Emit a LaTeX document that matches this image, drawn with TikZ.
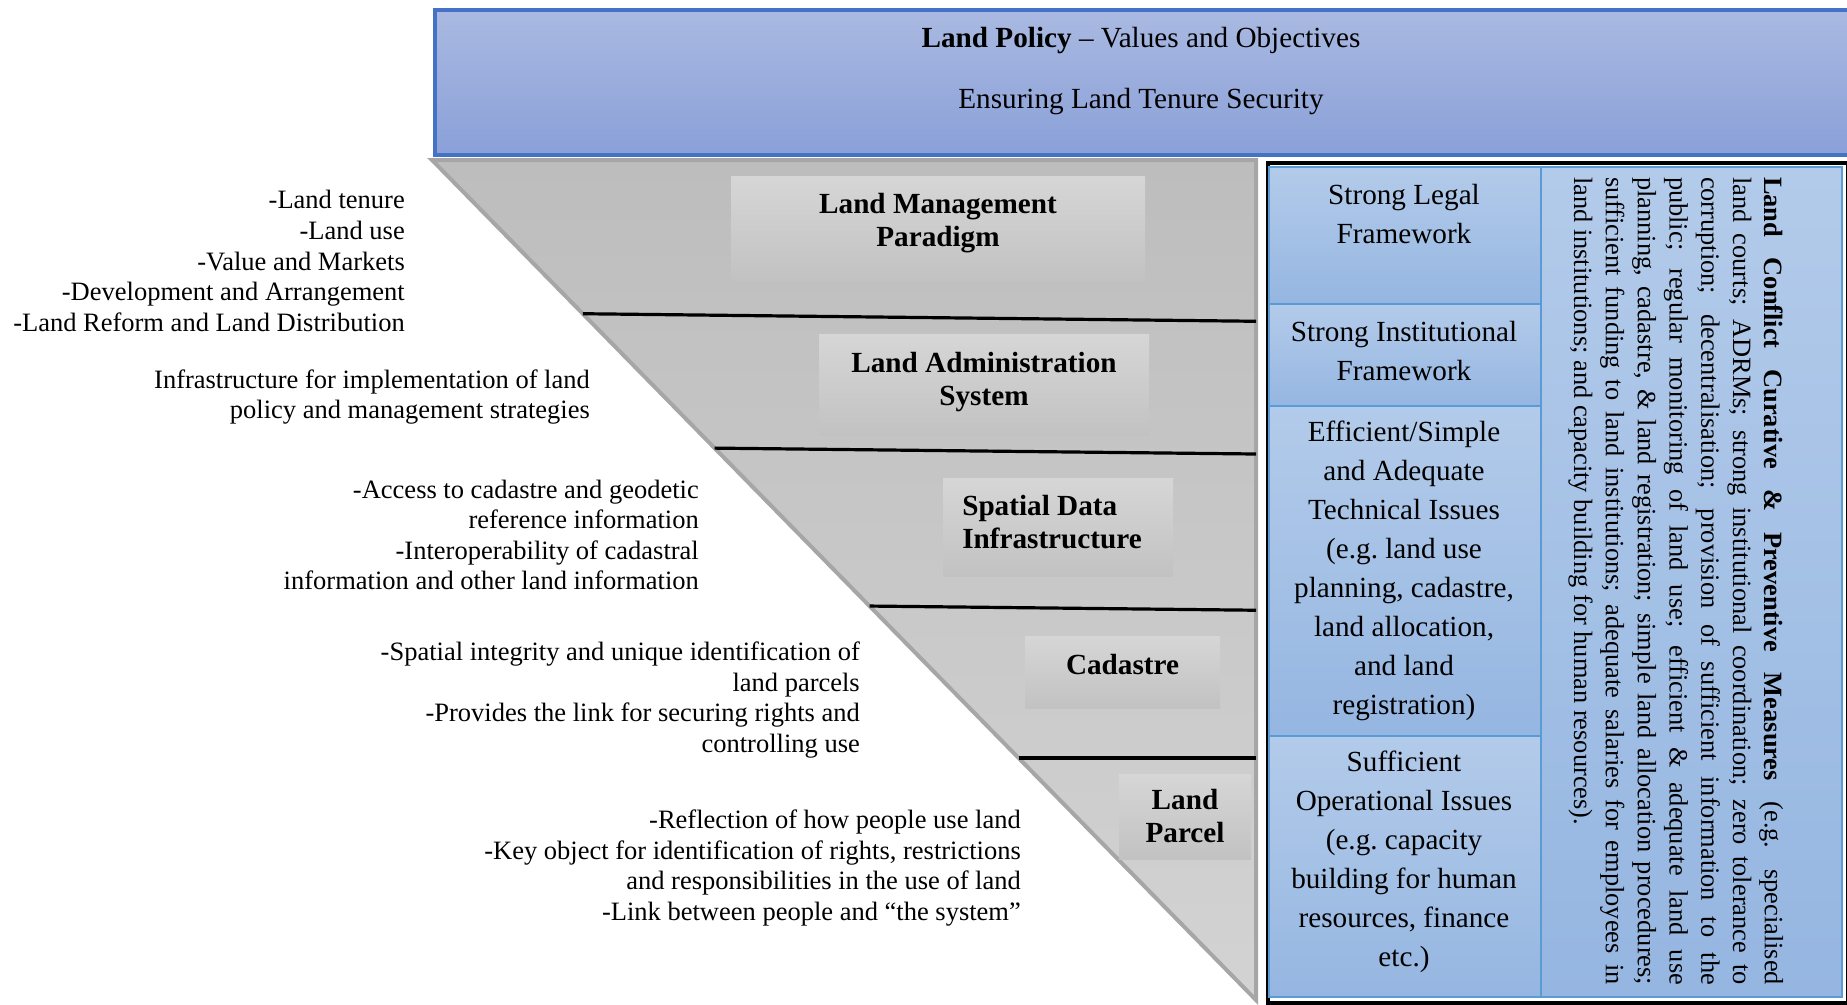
\documentclass[tikz,border=0pt]{standalone}
\usepackage{fontspec}
\setmainfont{Liberation Serif}
\usepackage{xcolor}
\usetikzlibrary{positioning,calc}

\definecolor{policyblue}{HTML}{4472C4}
\definecolor{policytop}{HTML}{A9B9E1}
\definecolor{policybot}{HTML}{8AA0D8}
\definecolor{funneledge}{HTML}{A6A6A6}
\definecolor{funneltop}{HTML}{BDBDBD}
\definecolor{funnelbot}{HTML}{D3D3D3}
\definecolor{layertop}{HTML}{D6D6D6}
\definecolor{layerbot}{HTML}{C2C2C2}
\definecolor{panelline}{HTML}{5B9BD5}
\definecolor{paneltop}{HTML}{B3CBEA}
\definecolor{panelbot}{HTML}{95B6E1}

\begin{document}
\begin{tikzpicture}[x=1pt, y=-1pt,
    note/.style={anchor=east, align=right, inner sep=0pt, font=\fontsize{26.5}{30.6}\selectfont},
    layerbox/.style={top color=layertop, bottom color=layerbot, inner sep=0pt},
    layer/.style={align=center, inner sep=0pt, font=\bfseries\fontsize{29.2}{33}\selectfont},
    pillar/.style={draw=panelline, line width=2pt, top color=paneltop, bottom color=panelbot},
    pillartext/.style={align=center, inner sep=0pt, font=\fontsize{29.2}{39}\selectfont},
    heading/.style={inner sep=0pt, font=\fontsize{29.2}{35}\selectfont},
    divider/.style={line width=3.2pt, black}]
    \useasboundingbox (0,0) rectangle (1847,1004);

    % Land policy banner
    \node[draw=policyblue, line width=4pt, top color=policytop, bottom color=policybot,
          minimum width=1416pt, minimum height=145pt, anchor=north west] (policy) at (433,8) {};
    \node[heading] (aim) at (1141,40.5) {\textbf{Land Policy} – Values and Objectives};
    \node[heading] (goal) at (1141,101.5) {Ensuring Land Tenure Security};

    % Funnel
    \coordinate (tl) at (432,160);
    \coordinate (tr) at (1256,160);
    \coordinate (apex) at (1256,1000);
    \draw[draw=funneledge, line width=4pt, top color=funneltop, bottom color=funnelbot] (tl) -- (tr) -- (apex) -- cycle;

    \draw[divider] ($(tl)!0.183!(apex)$) -- ($(tr)!0.192!(apex)$);
    \draw[divider] ($(tl)!0.343!(apex)$) -- ($(tr)!0.350!(apex)$);
    \draw[divider] ($(tl)!0.531!(apex)$) -- ($(tr)!0.536!(apex)$);
    \draw[divider] ($(tl)!0.712!(apex)$) -- ($(tr)!0.712!(apex)$);

    \node[layerbox, minimum width=414pt, minimum height=104pt] (lmpbox) at (938,228) {};
    \node[layerbox, minimum width=330pt, minimum height=101pt] (lasbox) at (984,384.5) {};
    \node[layerbox, minimum width=230pt, minimum height=98pt] (sdibox) at (1058,527) {};
    \node[layerbox, minimum width=195pt, minimum height=72pt] (cadbox) at (1122.5,672) {};
    \node[layerbox, minimum width=132pt, minimum height=85pt] (parcelbox) at (1185,816.5) {};

    \node[layer, yshift=5pt] (lmp) at (lmpbox) {Land Management\\Paradigm};
    \node[layer, yshift=2pt] (las) at (lasbox) {Land Administration\\System};
    \node[layer, align=left, yshift=5pt, xshift=-6pt] (sdi) at (sdibox) {Spatial Data\\Infrastructure};
    \node[layer, yshift=7pt] (cad) at (cadbox) {Cadastre};
    \node[layer] (parcel) at (parcelbox) {Land\\Parcel};

    % Labels
    \node[note] (tenure) at (405,261) {-Land tenure\\-Land use\\-Value and Markets\\-Development and Arrangement\\-Land Reform and Land Distribution};
    \node[note] (infra) at (590,397) {Infrastructure for implementation of land\\policy and management strategies};
    \node[note] (access) at (699,535) {-Access to cadastre and geodetic\\reference information\\-Interoperability of cadastral\\information and other land information};
    \node[note] (integrity) at (860,700) {-Spatial integrity and unique identification of\\land parcels\\-Provides the link for securing rights and\\controlling use};
    \node[note] (reflect) at (1021,868) {-Reflection of how people use land\\-Key object for identification of rights, restrictions\\and responsibilities in the use of land\\-Link between people and “the system”};

    % Land conflict measures
    \node[draw, line width=4pt, minimum width=580pt, minimum height=840pt, anchor=north west] (frame) at (1265.5,160.5) {};
    \draw[pillar] (1269,167) rectangle (1541,304);
    \draw[pillar] (1269,304) rectangle (1541,406);
    \draw[pillar] (1269,406) rectangle (1541,736);
    \draw[pillar] (1269,736) rectangle (1541,997);
    \draw[pillar] (1541,167) rectangle (1842,997);

    \node[pillartext] (legal) at (1404,214) {Strong Legal\\Framework};
    \node[pillartext] (inst) at (1404,351.5) {Strong Institutional\\Framework};
    \node[pillartext] (tech) at (1404,570.5) {Efficient/Simple\\and Adequate\\Technical Issues\\(e.g.\ land use\\planning, cadastre,\\land allocation,\\and land\\registration)};
    \node[pillartext] (ops) at (1404,862) {Sufficient\\Operational Issues\\(e.g.\ capacity\\building for human\\resources, finance\\etc.)};

    \node[rotate=-90, text width=808pt, align=justify, inner sep=0pt, font=\fontsize{26.4}{31.8}\selectfont] (measures) at (1676,581)
      {\textbf{Land Conflict Curative \& Preventive Measures} (e.g.\ specialised\linebreak
       land courts; ADRMs; strong institutional coordination; zero tolerance to\linebreak
       corruption; decentralisation; provision of sufficient information to the\linebreak
       public; regular monitoring of land use; efficient \& adequate land use\linebreak
       planning, cadastre, \& land registration; simple land allocation procedures;\linebreak
       sufficient funding to land institutions; adequate salaries for employees in\linebreak
       land institutions; and capacity building for human resources).};
\end{tikzpicture}
\end{document}
